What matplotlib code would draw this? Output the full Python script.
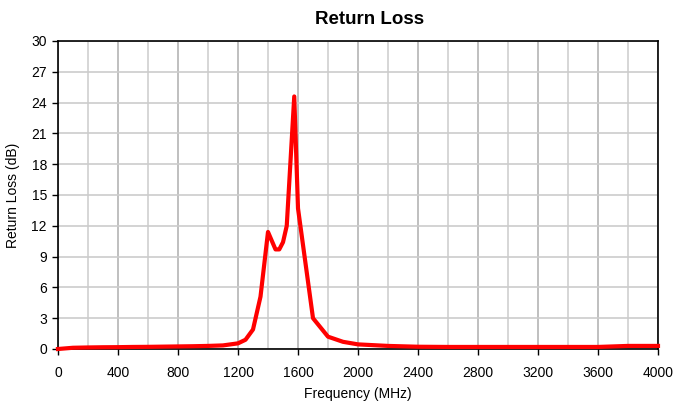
import matplotlib
matplotlib.use("Agg")
import matplotlib.pyplot as plt
import numpy as np

freq = [0, 100, 200, 300, 400, 500, 600, 700, 800, 900, 1000, 1100, 1200, 1250,
        1300, 1350, 1400, 1450, 1475, 1500, 1525, 1550, 1575, 1600, 1700, 1800,
        1900, 2000, 2200, 2400, 2600, 2800, 3000, 3200, 3400, 3600, 3800, 4000]
return_loss = [0.0, 0.12, 0.15, 0.17, 0.18, 0.2, 0.21, 0.23, 0.25, 0.27, 0.3, 0.35, 0.55, 0.9,
               1.9, 5.1, 11.4, 9.7, 9.7, 10.4, 12.0, 18.3, 24.6, 13.7, 3.0, 1.2,
               0.7, 0.45, 0.3, 0.22, 0.2, 0.2, 0.2, 0.2, 0.2, 0.2, 0.3, 0.3]

x_ticks = list(range(0, 4001, 400))
y_ticks = list(range(0, 31, 3))

plt.rcParams['font.family'] = ['Liberation Sans', 'DejaVu Sans']

fig = plt.figure(figsize=(6.75, 4.07), dpi=100)
ax = fig.add_axes([58/675, 1-349/407, 600/675, 308/407])

ax.set_xlim(0, 4000)
ax.set_ylim(0, 30)
ax.set_xticks(x_ticks)
ax.set_yticks(y_ticks)
ax.set_xticks(range(200, 4000, 400), minor=True)
ax.tick_params(axis='x', which='minor', length=0)
ax.tick_params(axis='both', which='major', direction='out', length=4, width=1, labelsize=10, colors='black')
ax.tick_params(axis='x', which='major', pad=8)
ax.tick_params(axis='y', which='major', pad=4)

ax.grid(True, which='major', axis='x', color='#b4b4b4', linewidth=1.2)
ax.grid(True, which='minor', axis='x', color='#d0d0d0', linewidth=1.2)
ax.grid(True, which='major', axis='y', color='#cccccc', linewidth=1.2)
ax.set_axisbelow(True)

for s in ax.spines.values():
    s.set_color('black')
    s.set_linewidth(1.2)

ax.plot(freq, return_loss, color='#ff0000', linewidth=3, solid_joinstyle='round', clip_on=False, zorder=3)

fig.text(370/675, 1-24/407, 'Return Loss', fontsize=13.5, fontweight='bold',
         ha='center', va='baseline')
ax.set_xlabel('Frequency (MHz)', fontsize=10, labelpad=5)
ax.set_ylabel('Return Loss (dB)', fontsize=10, labelpad=8)

fig.savefig('out.png', dpi=100)
